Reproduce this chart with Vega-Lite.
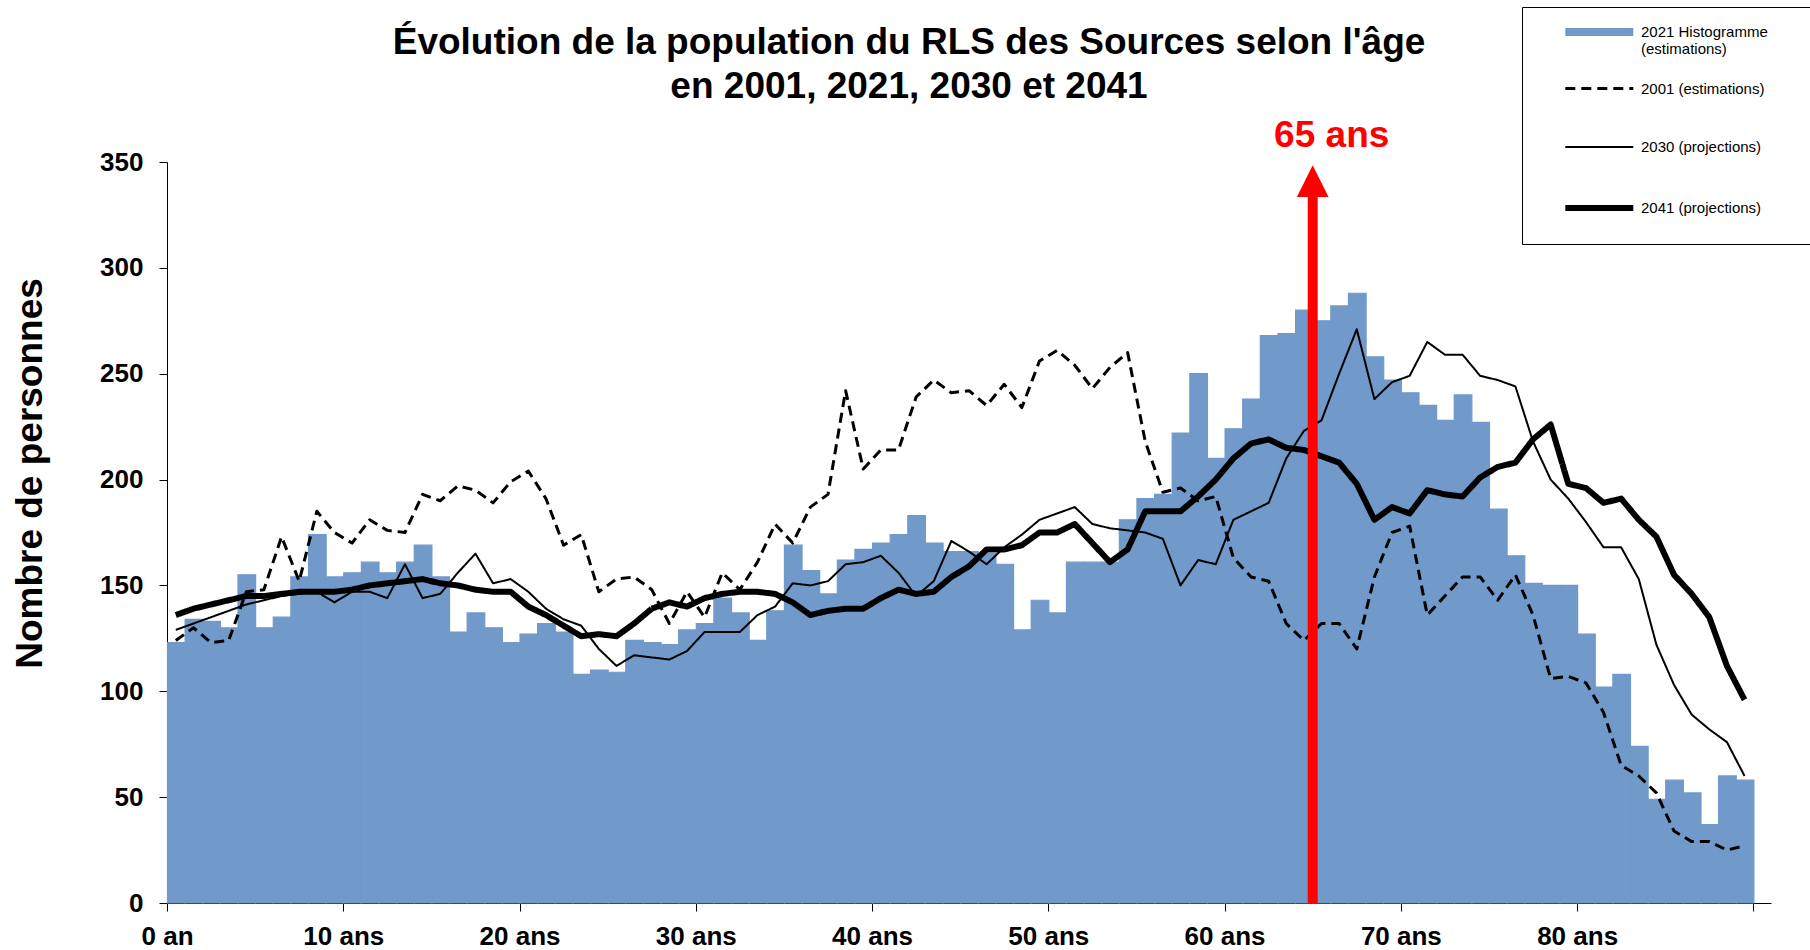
{
  "$schema": "https://vega.github.io/schema/vega-lite/v6.json",
  "width": 1604,
  "height": 741,
  "autosize": {"type": "none"},
  "padding": {"left": 167, "top": 162, "right": 39, "bottom": 47},
  "background": "white",
  "config": {"view": {"stroke": null}, "font": "Liberation Sans"},
  "title": {
    "text": ["Évolution de la population du RLS des Sources selon l'âge", "en 2001, 2021, 2030 et 2041"],
    "font": "Liberation Sans",
    "fontSize": 37,
    "fontWeight": "bold",
    "color": "black",
    "anchor": "middle",
    "frame": "group",
    "dx": -60,
    "lineHeight": 44,
    "offset": -99
  },
  "datasets": {
    "pop": [
      {"age": 0, "p2021": 123, "p2001": 124, "p2030": 129, "p2041": 136},
      {"age": 1, "p2021": 134, "p2001": 130, "p2030": 132, "p2041": 139},
      {"age": 2, "p2021": 133, "p2001": 123, "p2030": 135, "p2041": 141},
      {"age": 3, "p2021": 130, "p2001": 124, "p2030": 138, "p2041": 143},
      {"age": 4, "p2021": 155, "p2001": 147, "p2030": 141, "p2041": 145},
      {"age": 5, "p2021": 130, "p2001": 148, "p2030": 143, "p2041": 145},
      {"age": 6, "p2021": 135, "p2001": 173, "p2030": 145, "p2041": 146},
      {"age": 7, "p2021": 154, "p2001": 152, "p2030": 146, "p2041": 147},
      {"age": 8, "p2021": 174, "p2001": 185, "p2030": 147, "p2041": 147},
      {"age": 9, "p2021": 154, "p2001": 175, "p2030": 142, "p2041": 147},
      {"age": 10, "p2021": 156, "p2001": 170, "p2030": 147, "p2041": 148},
      {"age": 11, "p2021": 161, "p2001": 181, "p2030": 147, "p2041": 150},
      {"age": 12, "p2021": 156, "p2001": 176, "p2030": 144, "p2041": 151},
      {"age": 13, "p2021": 161, "p2001": 175, "p2030": 160, "p2041": 152},
      {"age": 14, "p2021": 169, "p2001": 193, "p2030": 144, "p2041": 153},
      {"age": 15, "p2021": 154, "p2001": 190, "p2030": 146, "p2041": 151},
      {"age": 16, "p2021": 128, "p2001": 197, "p2030": 156, "p2041": 150},
      {"age": 17, "p2021": 137, "p2001": 195, "p2030": 165, "p2041": 148},
      {"age": 18, "p2021": 130, "p2001": 189, "p2030": 151, "p2041": 147},
      {"age": 19, "p2021": 123, "p2001": 199, "p2030": 153, "p2041": 147},
      {"age": 20, "p2021": 127, "p2001": 204, "p2030": 147, "p2041": 140},
      {"age": 21, "p2021": 132, "p2001": 191, "p2030": 139, "p2041": 136},
      {"age": 22, "p2021": 128, "p2001": 169, "p2030": 134, "p2041": 131},
      {"age": 23, "p2021": 108, "p2001": 174, "p2030": 131, "p2041": 126},
      {"age": 24, "p2021": 110, "p2001": 147, "p2030": 120, "p2041": 127},
      {"age": 25, "p2021": 109, "p2001": 153, "p2030": 112, "p2041": 126},
      {"age": 26, "p2021": 124, "p2001": 154, "p2030": 117, "p2041": 132},
      {"age": 27, "p2021": 123, "p2001": 148, "p2030": 116, "p2041": 139},
      {"age": 28, "p2021": 122, "p2001": 132, "p2030": 115, "p2041": 142},
      {"age": 29, "p2021": 129, "p2001": 147, "p2030": 119, "p2041": 140},
      {"age": 30, "p2021": 132, "p2001": 135, "p2030": 128, "p2041": 144},
      {"age": 31, "p2021": 144, "p2001": 156, "p2030": 128, "p2041": 146},
      {"age": 32, "p2021": 137, "p2001": 148, "p2030": 128, "p2041": 147},
      {"age": 33, "p2021": 124, "p2001": 161, "p2030": 136, "p2041": 147},
      {"age": 34, "p2021": 138, "p2001": 179, "p2030": 140, "p2041": 146},
      {"age": 35, "p2021": 169, "p2001": 170, "p2030": 151, "p2041": 142},
      {"age": 36, "p2021": 157, "p2001": 187, "p2030": 150, "p2041": 136},
      {"age": 37, "p2021": 146, "p2001": 193, "p2030": 152, "p2041": 138},
      {"age": 38, "p2021": 162, "p2001": 242, "p2030": 160, "p2041": 139},
      {"age": 39, "p2021": 167, "p2001": 205, "p2030": 161, "p2041": 139},
      {"age": 40, "p2021": 170, "p2001": 214, "p2030": 164, "p2041": 144},
      {"age": 41, "p2021": 174, "p2001": 214, "p2030": 156, "p2041": 148},
      {"age": 42, "p2021": 183, "p2001": 239, "p2030": 145, "p2041": 146},
      {"age": 43, "p2021": 170, "p2001": 247, "p2030": 152, "p2041": 147},
      {"age": 44, "p2021": 166, "p2001": 241, "p2030": 171, "p2041": 154},
      {"age": 45, "p2021": 166, "p2001": 242, "p2030": 166, "p2041": 159},
      {"age": 46, "p2021": 165, "p2001": 235, "p2030": 160, "p2041": 167},
      {"age": 47, "p2021": 160, "p2001": 245, "p2030": 168, "p2041": 167},
      {"age": 48, "p2021": 129, "p2001": 234, "p2030": 174, "p2041": 169},
      {"age": 49, "p2021": 143, "p2001": 256, "p2030": 181, "p2041": 175},
      {"age": 50, "p2021": 137, "p2001": 261, "p2030": 184, "p2041": 175},
      {"age": 51, "p2021": 161, "p2001": 254, "p2030": 187, "p2041": 179},
      {"age": 52, "p2021": 161, "p2001": 243, "p2030": 179, "p2041": 170},
      {"age": 53, "p2021": 161, "p2001": 253, "p2030": 177, "p2041": 161},
      {"age": 54, "p2021": 181, "p2001": 260, "p2030": 176, "p2041": 167},
      {"age": 55, "p2021": 191, "p2001": 218, "p2030": 175, "p2041": 185},
      {"age": 56, "p2021": 193, "p2001": 194, "p2030": 172, "p2041": 185},
      {"age": 57, "p2021": 222, "p2001": 196, "p2030": 150, "p2041": 185},
      {"age": 58, "p2021": 250, "p2001": 190, "p2030": 162, "p2041": 192},
      {"age": 59, "p2021": 210, "p2001": 192, "p2030": 160, "p2041": 200},
      {"age": 60, "p2021": 224, "p2001": 163, "p2030": 181, "p2041": 210},
      {"age": 61, "p2021": 238, "p2001": 154, "p2030": 185, "p2041": 217},
      {"age": 62, "p2021": 268, "p2001": 152, "p2030": 189, "p2041": 219},
      {"age": 63, "p2021": 269, "p2001": 132, "p2030": 210, "p2041": 215},
      {"age": 64, "p2021": 280, "p2001": 124, "p2030": 223, "p2041": 214},
      {"age": 65, "p2021": 275, "p2001": 132, "p2030": 228, "p2041": 211},
      {"age": 66, "p2021": 282, "p2001": 132, "p2030": 250, "p2041": 208},
      {"age": 67, "p2021": 288, "p2001": 120, "p2030": 271, "p2041": 198},
      {"age": 68, "p2021": 258, "p2001": 154, "p2030": 238, "p2041": 181},
      {"age": 69, "p2021": 247, "p2001": 175, "p2030": 246, "p2041": 187},
      {"age": 70, "p2021": 241, "p2001": 178, "p2030": 249, "p2041": 184},
      {"age": 71, "p2021": 235, "p2001": 136, "p2030": 265, "p2041": 195},
      {"age": 72, "p2021": 228, "p2001": 145, "p2030": 259, "p2041": 193},
      {"age": 73, "p2021": 240, "p2001": 154, "p2030": 259, "p2041": 192},
      {"age": 74, "p2021": 227, "p2001": 154, "p2030": 249, "p2041": 201},
      {"age": 75, "p2021": 186, "p2001": 143, "p2030": 247, "p2041": 206},
      {"age": 76, "p2021": 164, "p2001": 155, "p2030": 244, "p2041": 208},
      {"age": 77, "p2021": 151, "p2001": 136, "p2030": 218, "p2041": 219},
      {"age": 78, "p2021": 150, "p2001": 106, "p2030": 200, "p2041": 226},
      {"age": 79, "p2021": 150, "p2001": 107, "p2030": 191, "p2041": 198},
      {"age": 80, "p2021": 127, "p2001": 104, "p2030": 180, "p2041": 196},
      {"age": 81, "p2021": 102, "p2001": 90, "p2030": 168, "p2041": 189},
      {"age": 82, "p2021": 108, "p2001": 65, "p2030": 168, "p2041": 191},
      {"age": 83, "p2021": 74, "p2001": 60, "p2030": 153, "p2041": 181},
      {"age": 84, "p2021": 49, "p2001": 52, "p2030": 122, "p2041": 173},
      {"age": 85, "p2021": 58, "p2001": 34, "p2030": 103, "p2041": 155},
      {"age": 86, "p2021": 52, "p2001": 29, "p2030": 89, "p2041": 146},
      {"age": 87, "p2021": 37, "p2001": 29, "p2030": 82, "p2041": 135},
      {"age": 88, "p2021": 60, "p2001": 25, "p2030": 76, "p2041": 112},
      {"age": 89, "p2021": 58, "p2001": 27, "p2030": 60, "p2041": 96}
    ],
    "mark65": [
      {"age": 65, "lo": 0, "hi": 334, "tip": 341, "lab": 357, "txt": "65 ans"}
    ]
  },
  "layer": [
    {
      "data": {"name": "pop"},
      "mark": {"type": "bar", "color": "#7199ca", "stroke": "#7199ca", "strokeWidth": 1.2, "binSpacing": 0},
      "encoding": {
        "x": {
          "field": "age",
          "type": "quantitative",
          "bin": {"binned": true, "step": 1},
          "scale": {"domain": [0, 91], "nice": false, "zero": false},
          "axis": {
            "title": null,
            "values": [0, 10, 20, 30, 40, 50, 60, 70, 80, 90],
            "labelExpr": "datum.value == 0 ? '0 an' : (datum.value >= 90 ? '' : datum.value + ' ans')",
            "labelDx": 8.8,
            "grid": false,
            "domainColor": "black",
            "tickColor": "black",
            "tickSize": 8,
            "labelFont": "Liberation Sans",
            "labelFontSize": 26,
            "labelFontWeight": "bold",
            "labelColor": "black",
            "labelPadding": 12,
            "labelFlush": false,
            "labelOverlap": false,
            "labelBound": false
          }
        },
        "y": {
          "field": "p2021",
          "type": "quantitative",
          "scale": {"domain": [0, 350], "nice": false},
          "axis": {
            "title": "Nombre de personnes",
            "values": [0, 50, 100, 150, 200, 250, 300, 350],
            "grid": false,
            "domainColor": "black",
            "tickColor": "black",
            "tickSize": 8,
            "labelFont": "Liberation Sans",
            "labelFontSize": 26,
            "labelFontWeight": "bold",
            "labelColor": "black",
            "labelPadding": 16,
            "labelOverlap": false,
            "labelFlush": false,
            "titleFont": "Liberation Sans",
            "titleFontSize": 37,
            "titleFontWeight": "bold",
            "titleColor": "black",
            "titleAngle": -90,
            "titleX": -126,
            "titleY": 311,
            "titleAlign": "center",
            "titleBaseline": "alphabetic"
          }
        }
      }
    },
    {
      "data": {"name": "pop"},
      "transform": [{"fold": ["p2001", "p2030", "p2041"], "as": ["key", "value"]}],
      "mark": {"type": "line", "xOffset": 8.8, "strokeJoin": "round"},
      "encoding": {
        "x": {"field": "age", "type": "quantitative", "scale": {"domain": [0, 91]}},
        "y": {"field": "value", "type": "quantitative", "scale": {"domain": [0, 350]}},
        "color": {
          "field": "key",
          "type": "nominal",
          "scale": {"domain": ["p2021", "p2001", "p2030", "p2041"], "range": ["#7199ca", "#000000", "#000000", "#000000"]},
          "legend": {
            "title": "\u00a0",
            "titleOrient": "right",
            "titlePadding": 33,
            "titleFont": "Liberation Sans",
            "titleFontSize": 15,
            "orient": "none",
            "legendX": 1355,
            "legendY": -155,
            "gridAlign": "all",
            "symbolType": "M 1.83 0 L 8.63 0",
            "symbolSize": 400,
            "labelOffset": 80,
            "labelFont": "Liberation Sans",
            "labelFontSize": 15,
            "labelColor": "black",
            "labelLimit": 400,
            "rowPadding": 20,
            "padding": 11,
            "strokeColor": "black",
            "fillColor": "white",
            "labelExpr": "datum.value == 'p2021' ? ['2021 Histogramme', '(estimations)'] : (datum.value == 'p2001' ? '2001 (estimations)' : (datum.value == 'p2030' ? '2030 (projections)' : ['2041 (projections)', '']))"
          }
        },
        "strokeDash": {
          "field": "key",
          "type": "nominal",
          "scale": {"type": "ordinal", "domain": ["p2021", "p2001", "p2030", "p2041"], "range": [[1, 0], [10, 6], [1, 0], [1, 0]]}
        },
        "strokeWidth": {
          "field": "key",
          "type": "nominal",
          "scale": {"type": "ordinal", "domain": ["p2021", "p2001", "p2030", "p2041"], "range": [8, 3, 2, 6]}
        }
      }
    },
    {
      "data": {"name": "mark65"},
      "mark": {"type": "rule", "color": "#ff0000", "strokeWidth": 10},
      "encoding": {
        "x": {"field": "age", "type": "quantitative"},
        "y": {"field": "lo", "type": "quantitative"},
        "y2": {"field": "hi"}
      }
    },
    {
      "data": {"name": "mark65"},
      "mark": {"type": "point", "shape": "M -1 1 L 1 1 L 0 -1 Z", "size": 1005, "filled": true, "color": "#ff0000", "opacity": 1, "strokeWidth": 0},
      "encoding": {
        "x": {"field": "age", "type": "quantitative"},
        "y": {"field": "tip", "type": "quantitative"}
      }
    },
    {
      "data": {"name": "mark65"},
      "mark": {"type": "text", "color": "#ff0000", "font": "Liberation Sans", "fontSize": 37, "fontWeight": "bold", "dx": 19, "align": "center", "baseline": "alphabetic"},
      "encoding": {
        "x": {"field": "age", "type": "quantitative"},
        "y": {"field": "lab", "type": "quantitative"},
        "text": {"field": "txt"}
      }
    }
  ]
}
